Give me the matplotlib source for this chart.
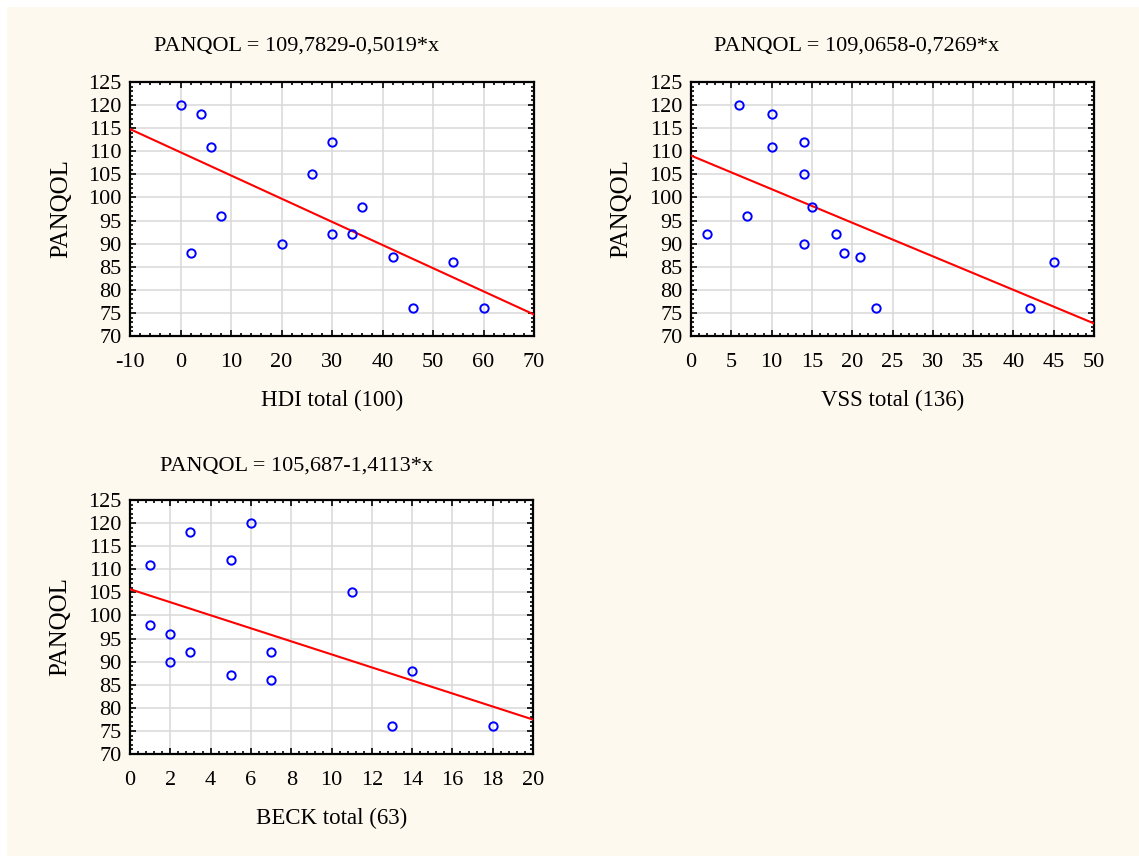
import matplotlib
matplotlib.use('Agg')
import matplotlib.pyplot as plt
from matplotlib.patches import Rectangle
from matplotlib.ticker import MultipleLocator, AutoMinorLocator
import numpy as np

# data
hdi_x = [0, 4, 6, 8, 2, 20, 26, 30, 30, 34, 36, 42, 46, 54, 60]
hdi_y = [120, 118, 111, 96, 88, 90, 105, 112, 92, 92, 98, 87, 76, 86, 76]

vss_x = [6, 10, 10, 14, 14, 15, 7, 2, 18, 14, 19, 21, 23, 42, 45]
vss_y = [120, 118, 111, 112, 105, 98, 96, 92, 92, 90, 88, 87, 76, 76, 86]

beck_x = [1, 3, 6, 5, 11, 1, 2, 2, 3, 7, 5, 7, 14, 13, 18]
beck_y = [111, 118, 120, 112, 105, 98, 96, 90, 92, 92, 87, 86, 88, 76, 76]

fits = [(109.7829, -0.5019), (109.0658, -0.7269), (105.687, -1.4113)]
titles = ['PANQOL = 109,7829-0,5019*x', 'PANQOL = 109,0658-0,7269*x',
          'PANQOL = 105,687-1,4113*x']
xlabels = ['HDI total (100)', 'VSS total (136)', 'BECK total (63)']
xlims = [(-10, 70), (0, 50), (0, 20)]
xsteps = [10, 5, 2]

plt.rcParams['font.family'] = ['Liberation Serif', 'DejaVu Serif']
plt.rcParams['font.size'] = 16
plt.rcParams['axes.unicode_minus'] = False

fig = plt.figure(figsize=(11.39, 8.56), dpi=100, facecolor='white')
fig.patches.append(Rectangle((7 / 1139, 0), 1, 1 - 7 / 856, transform=fig.transFigure,
                             facecolor='#fef9ef', edgecolor='none', zorder=-10))

W, H = 1139, 856
boxes = [(130, 82, 404, 254), (691, 82, 403, 254), (130, 500, 403, 254)]
title_pos = [(297, 46), (857, 46), (297, 466)]
ylab_x = [-0.142, -0.146, -0.146]
data = [(hdi_x, hdi_y), (vss_x, vss_y), (beck_x, beck_y)]

for i in range(3):
    l, t, w, h = boxes[i]
    ax = fig.add_axes([l / W, 1 - (t + h) / H, w / W, h / H])
    ax.set_facecolor('white')
    x, y = data[i]
    a, b = fits[i]
    xl = np.array(xlims[i], dtype=float)
    ax.plot(xl, a + b * xl, color='#ff0000', lw=1.5, zorder=3)
    ax.plot(x, y, 'o', mfc='none', mec='#0000ff', ms=6, mew=1.4, zorder=4)
    ax.set_xlim(*xlims[i])
    ax.set_ylim(70, 125)
    ax.xaxis.set_major_locator(MultipleLocator(xsteps[i]))
    ax.yaxis.set_major_locator(MultipleLocator(5))
    ax.xaxis.set_minor_locator(AutoMinorLocator(5))
    ax.yaxis.set_minor_locator(AutoMinorLocator(5))
    ax.grid(True, which='major', color='#d8d8d8', lw=1.1, zorder=0)
    ax.set_axisbelow(True)
    ax.tick_params(which='both', direction='in', top=True, right=True,
                   labelsize=16, width=1.2)
    ax.tick_params(which='major', length=4)
    ax.tick_params(which='minor', length=2)
    ax.tick_params(axis='x', which='major', pad=12)
    ax.tick_params(axis='y', which='major', pad=6)
    for s in ax.spines.values():
        s.set_linewidth(1.6)
    ax.set_xlabel(xlabels[i], fontsize=16.5)
    ax.xaxis.set_label_coords(0.5, -0.212)
    ax.set_ylabel('PANQOL', fontsize=18)
    ax.yaxis.set_label_coords(ylab_x[i], 0.5)
    tx, ty = title_pos[i]
    fig.text(tx / W, 1 - ty / H, titles[i], ha='center', va='center', fontsize=16)

fig.savefig('out.png', dpi=100, facecolor=fig.get_facecolor())
